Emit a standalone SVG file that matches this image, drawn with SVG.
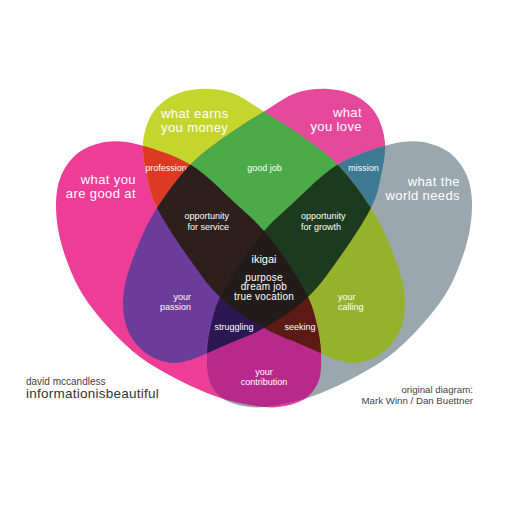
<svg xmlns="http://www.w3.org/2000/svg" xmlns:xlink="http://www.w3.org/1999/xlink" width="512" height="512" viewBox="0 0 512 512">
<style>
text{font-family:"Liberation Sans",Arial,sans-serif;fill:#fff}
.t{font-size:13px;letter-spacing:0.4px}
.s{font-size:9px}
.k{font-size:10px;letter-spacing:0.2px}
.c{text-anchor:middle}
.e{text-anchor:end}
.cr{fill:#444}
</style>
<defs>
<path id="pG" d="M105,142 C115.3,140.7 125.7,141.2 140,145 C154.3,148.8 175,155.2 191,165 C207,174.8 224,193.2 236,204 C248,214.8 254.5,220.3 263,230 C271.5,239.7 279.5,250.8 287,262 C294.5,273.2 303,286.5 308,297 C313,307.5 314.8,315.7 317,325 C319.2,334.3 320.7,343.8 321,353 C321.3,362.2 321.5,372.5 319,380 C316.5,387.5 311.7,393.7 306,398 C300.3,402.3 292,404.5 285,406 C278,407.5 272.3,407.7 264,407 C255.7,406.3 244.5,404.3 235,402 C225.5,399.7 217.3,397.2 207,393 C196.7,388.8 184.2,383 173,377 C161.8,371 150.8,365.3 140,357 C129.2,348.7 118,338.2 108,327 C98,315.8 87.7,303.5 80,290 C72.3,276.5 66,259.8 62,246 C58,232.2 56.2,218.7 56,207 C55.8,195.3 57.3,185 61,176 C64.7,167 70.7,158.7 78,153 C85.3,147.3 97.7,143.3 105,142 Z"/>
<path id="pM" d="M143,143 C143.8,132.7 147.2,121.8 152,114 C156.8,106.2 164,100.2 172,96 C180,91.8 190,89.5 200,89 C210,88.5 221.5,89.3 232,93 C242.5,96.7 251.3,103.8 263,111 C274.7,118.2 289.5,127 302,136 C314.5,145 326.5,153 338,165 C349.5,177 362.2,194.2 371,208 C379.8,221.8 385.5,234.3 391,248 C396.5,261.7 402.2,277.2 404,290 C405.8,302.8 405,315 402,325 C399,335 392.7,343.8 386,350 C379.3,356.2 370,360.3 362,362 C354,363.7 348.3,363 338,360 C327.7,357 312.3,349.3 300,344 C287.7,338.7 277.3,335.8 264,328 C250.7,320.2 233,309.3 220,297 C207,284.7 196.5,268.8 186,254 C175.5,239.2 163.5,221 157,208 C150.5,195 149.3,186.8 147,176 C144.7,165.2 142.2,153.3 143,143 Z"/>
<clipPath id="cG"><use xlink:href="#pG"/></clipPath>
<clipPath id="cW"><use xlink:href="#pG" transform="matrix(-1 0 0 1 528 0)"/></clipPath>
<clipPath id="cM"><use xlink:href="#pM"/></clipPath>
<clipPath id="cL"><use xlink:href="#pM" transform="matrix(-1 0 0 1 528 0)"/></clipPath>
</defs>
<rect width="512" height="512" fill="#fff"/>

<g id="good-at">
<use xlink:href="#pG" fill="#ee3d96"/>
<text class="t e" x="136" y="184">what you</text>
<text class="t e" x="136" y="198">are good at</text>
</g>
<g id="earns-money">
<use xlink:href="#pM" fill="#c4d62e"/>
<text class="t" x="161" y="118">what earns</text>
<text class="t" x="161" y="132">you money</text>
</g>
<g id="you-love">
<use xlink:href="#pM" transform="matrix(-1 0 0 1 528 0)" fill="#e6499b"/>
<text class="t e" x="362" y="117">what</text>
<text class="t e" x="362" y="131">you love</text>
</g>
<g id="world-needs">
<use xlink:href="#pG" transform="matrix(-1 0 0 1 528 0)" fill="#9aa7ae"/>
<text class="t e" x="460" y="185.5">what the</text>
<text class="t e" x="460" y="199.5">world needs</text>
</g>

<g id="overlaps">
<g id="profession"><g clip-path="url(#cG)"><use xlink:href="#pM" fill="#dc3a22"/></g>
<text class="s c" x="166" y="171">profession</text></g>
<g id="good-job"><g clip-path="url(#cM)"><rect width="512" height="512" fill="#4bab48" clip-path="url(#cL)"/></g>
<text class="s c" x="264.5" y="171">good job</text></g>
<g id="mission"><g clip-path="url(#cL)"><rect width="512" height="512" fill="#3e7a93" clip-path="url(#cW)"/></g>
<text class="s c" x="363.5" y="171">mission</text></g>
<g id="passion"><g clip-path="url(#cG)"><rect width="512" height="512" fill="#6b3c9a" clip-path="url(#cL)"/></g>
<text class="s e" x="191" y="300">your</text>
<text class="s e" x="191" y="310">passion</text></g>
<g id="calling"><g clip-path="url(#cM)"><rect width="512" height="512" fill="#96b22d" clip-path="url(#cW)"/></g>
<text class="s" x="338" y="300">your</text>
<text class="s" x="338" y="310">calling</text></g>
<g id="contribution"><g clip-path="url(#cG)"><rect width="512" height="512" fill="#b72a8c" clip-path="url(#cW)"/></g>
<text class="s c" x="264" y="375">your</text>
<text class="s c" x="264" y="384.5">contribution</text></g>

<g id="service"><g clip-path="url(#cG)"><g clip-path="url(#cM)"><rect width="512" height="512" fill="#2d201c" clip-path="url(#cL)"/></g></g>
<text class="s e" x="229" y="219">opportunity</text>
<text class="s e" x="229" y="229.5">for service</text></g>
<g id="growth"><g clip-path="url(#cM)"><g clip-path="url(#cL)"><rect width="512" height="512" fill="#1c3a1e" clip-path="url(#cW)"/></g></g>
<text class="s" x="301" y="219">opportunity</text>
<text class="s" x="301" y="229.5">for growth</text></g>
<g id="struggling"><g clip-path="url(#cG)"><g clip-path="url(#cL)"><rect width="512" height="512" fill="#2b1752" clip-path="url(#cW)"/></g></g>
<text class="s c" x="234" y="329.5">struggling</text></g>
<g id="seeking"><g clip-path="url(#cG)"><g clip-path="url(#cM)"><rect width="512" height="512" fill="#5c1b14" clip-path="url(#cW)"/></g></g>
<text class="s c" x="300" y="329.5">seeking</text></g>

<g id="ikigai"><g clip-path="url(#cG)"><g clip-path="url(#cM)"><g clip-path="url(#cL)"><rect width="512" height="512" fill="#211c1a" clip-path="url(#cW)"/></g></g></g>
<text class="k c" x="264" y="263" style="font-size:11px;letter-spacing:0">ikigai</text>
<text class="k c" x="264" y="280.5">purpose</text>
<text class="k c" x="264" y="290.2">dream job</text>
<text class="k c" x="264" y="299.9">true vocation</text></g>
</g>

<g id="credits">
<text class="cr" x="26" y="384.5" style="font-size:10px">david mccandless</text>
<text x="26" y="397.5" style="font-size:13.5px;letter-spacing:0.25px;fill:#333">informationisbeautiful</text>
<text class="cr e" x="473" y="392.5" style="font-size:9.7px">original diagram:</text>
<text class="cr e" x="473" y="403.5" style="font-size:9.7px">Mark Winn / Dan Buettner</text>
</g>
</svg>
